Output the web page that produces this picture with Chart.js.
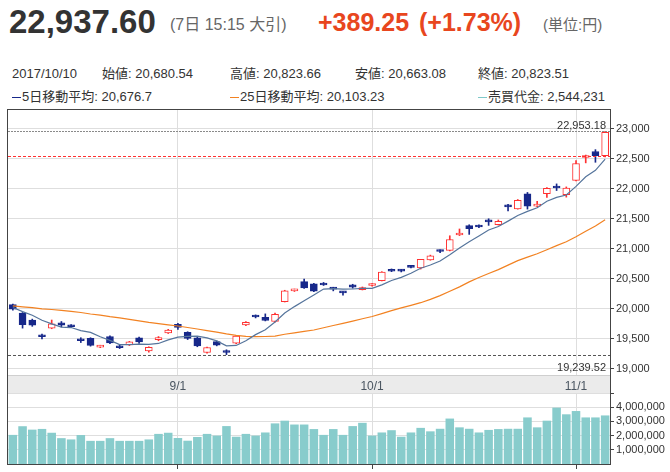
<!DOCTYPE html>
<html>
<head>
<meta charset="utf-8">
<script src="https://cdn.jsdelivr.net/npm/chart.js@4.4.0/dist/chart.umd.min.js"></script>
<style>
  body {
    margin: 0;
    width: 670px;
    height: 472px;
    overflow: hidden;
    position: relative;
    background: #fff;
    font-family: "Liberation Sans", Arial, "Noto Sans CJK JP", sans-serif;
    color: #333;
  }
  .t { position: absolute; white-space: nowrap; line-height: 1; }
  .row { font-size: 13px; color: #333; }
  .dash { display: inline-block; width: 9px; height: 0; border-top: 1px solid; vertical-align: middle; margin-right: 1px; }
  canvas { position: absolute; left: 0; }
</style>
</head>
<body>
<div class="t" style="left:9px;top:5px;font-size:33px;font-weight:bold;color:#333">22,937.60</div>
<div class="t" style="left:170px;top:17px;font-size:16px;color:#666">(7日 15:15 大引)</div>
<div class="t" style="left:318px;top:10px;font-size:25px;font-weight:bold;color:#e8461e">+389.25</div>
<div class="t" style="left:419px;top:10px;font-size:25px;font-weight:bold;color:#e8461e">(+1.73%)</div>
<div class="t" style="left:543px;top:17px;font-size:15px;color:#666">(単位:円)</div>

<div class="t row" id="r-date" style="left:12px;top:67px"></div>
<div class="t row" id="r-open" style="left:102px;top:67px"></div>
<div class="t row" id="r-high" style="left:230px;top:67px"></div>
<div class="t row" id="r-low" style="left:355px;top:67px"></div>
<div class="t row" id="r-close" style="left:478px;top:67px"></div>
<div class="t row" id="r-ma5" style="left:12px;top:90px"></div>
<div class="t row" id="r-ma25" style="left:230px;top:90px"></div>
<div class="t row" id="r-vol" style="left:478px;top:90px"></div>

<canvas id="price" width="670" height="285" style="top:109px"></canvas>
<canvas id="volume" width="670" height="77" style="top:393px"></canvas>

<script>
const year = "2017";
const dates = [
  "8/8", "8/9", "8/10", "8/14", "8/15", "8/16", "8/17", "8/18", "8/21", "8/22",
  "8/23", "8/24", "8/25", "8/28", "8/29", "8/30", "8/31", "9/1", "9/4", "9/5",
  "9/6", "9/7", "9/8", "9/11", "9/12", "9/13", "9/14", "9/15", "9/19", "9/20",
  "9/21", "9/22", "9/25", "9/26", "9/27", "9/28", "9/29", "10/2", "10/3", "10/4",
  "10/5", "10/6", "10/10", "10/11", "10/12", "10/13", "10/16", "10/17", "10/18", "10/19",
  "10/20", "10/23", "10/24", "10/25", "10/26", "10/27", "10/30", "10/31", "11/1", "11/2",
  "11/6", "11/7",
];
const opens = [
  20070, 19930, 19815, 19545, 19680, 19770, 19715, 19480, 19510, 19365,
  19540, 19365, 19400, 19520, 19300, 19490, 19600, 19745, 19610, 19520,
  19275, 19455, 19290, 19430, 19735, 19885, 19860, 19790, 20120, 20300,
  20455, 20417, 20428, 20340, 20280, 20400, 20320, 20390, 20470, 20660,
  20650, 20720, 20680.54, 20815, 20965, 20975, 21230, 21385, 21385, 21460,
  21400, 21710, 21665, 21917, 21710, 21917, 22040, 21900, 22140, 22520,
  22620, 22550,
];
const highs = [
  20080, 19940, 19830, 19580, 19815, 19790, 19740, 19520, 19520, 19395,
  19550, 19410, 19460, 19530, 19370, 19540, 19660, 19760, 19620, 19530,
  19365, 19465, 19320, 19555, 19790, 19900, 19917, 19930, 20310, 20330,
  20495, 20425, 20440, 20360, 20290, 20410, 20365, 20420, 20620, 20665,
  20655, 20725, 20823.66, 20895, 20985, 21217, 21330, 21400, 21400, 21500,
  21480, 21740, 21820, 21938, 21790, 22020, 22080, 22030, 22467, 22560,
  22650, 22953.18,
];
const lows = [
  19980, 19680, 19710, 19500, 19670, 19700, 19690, 19440, 19380, 19355,
  19420, 19340, 19390, 19425, 19280, 19470, 19590, 19660, 19490, 19370,
  19265, 19385, 19239.52, 19420, 19720, 19850, 19800, 19780, 20115, 20290,
  20340, 20285, 20390, 20300, 20230, 20345, 20315, 20380, 20465, 20620,
  20615, 20680, 20663.08, 20810, 20935, 20965, 21220, 21240, 21350, 21390,
  21395, 21630, 21660, 21661, 21700, 21855, 21970, 21860, 22130, 22430,
  22440, 22530,
];
const closes = [
  19996.01, 19738.71, 19729.74, 19537.10, 19753.31, 19729.28, 19702.63, 19470.41, 19393.13, 19383.84,
  19434.64, 19353.77, 19452.61, 19449.90, 19362.55, 19506.54, 19646.24, 19691.47, 19508.25, 19385.81,
  19357.97, 19396.52, 19274.82, 19545.77, 19776.62, 19865.82, 19807.44, 19909.50, 20299.38, 20310.46,
  20347.48, 20296.45, 20397.58, 20330.19, 20267.05, 20363.11, 20356.28, 20400.78, 20614.07, 20626.66,
  20628.56, 20690.71, 20823.51, 20881.27, 20954.72, 21155.18, 21255.56, 21336.12, 21363.05, 21448.52,
  21457.64, 21696.65, 21805.17, 21707.62, 21739.78, 22008.45, 22011.67, 22011.61, 22420.08, 22539.12,
  22548.35, 22937.60,
];
const ma5 = [
  20023, 19954, 19895, 19812, 19751, 19698, 19690, 19638, 19610, 19536,
  19477, 19407, 19404, 19415, 19411, 19425, 19484, 19531, 19543, 19548,
  19518, 19468, 19385, 19392, 19471, 19572, 19654, 19781, 19932, 20038,
  20135, 20232, 20330, 20336, 20328, 20331, 20343, 20343, 20400, 20472,
  20525, 20592, 20676.7, 20730, 20796, 20901, 21014, 21117, 21213, 21312,
  21372, 21461, 21554, 21623, 21682, 21792, 21855, 21896, 22038, 22198,
  22306, 22491,
];
const ma25 = [
  20050, 20035, 20020, 20000, 19990, 19975, 19960, 19940, 19915, 19895,
  19870, 19850, 19825, 19800, 19775, 19755, 19735, 19715, 19690, 19665,
  19640, 19615, 19585, 19560, 19543, 19538, 19541, 19548, 19578, 19601,
  19625, 19649, 19686, 19724, 19759, 19796, 19836, 19874, 19921, 19971,
  20016, 20058, 20103.23, 20158, 20221, 20293, 20367, 20450, 20522, 20589,
  20653, 20728, 20804, 20861, 20918, 20984, 21053, 21117, 21201, 21292,
  21379, 21483,
];
const volumes = [
  2050000, 2660000, 2420000, 2470000, 2200000, 1820000, 1730000, 2040000, 1630000, 1630000,
  1820000, 1630000, 1630000, 1630000, 1730000, 2120000, 2200000, 1830000, 1640000, 1900000,
  2120000, 2000000, 2670000, 1920000, 2120000, 2000000, 2220000, 2860000, 3050000, 2780000,
  2780000, 2460000, 2050000, 2460000, 2050000, 2670000, 2900000, 2000000, 2220000, 2380000,
  1920000, 2220000, 2544231, 2300000, 2480000, 3200000, 2580000, 2480000, 2220000, 2400000,
  2460000, 2480000, 2480000, 3280000, 2580000, 3050000, 3970000, 3500000, 3730000, 3280000,
  3280000, 3420000,
];
const monthIdx = [17, 37, 58];
const monthLabels = ["9/1", "10/1", "11/1"];
const priceTicks = [19000, 19500, 20000, 20500, 21000, 21500, 22000, 22500, 23000];
const volumeTicks = [1000000, 2000000, 3000000, 4000000, 5000000];
const periodHigh = 22953.18;
const periodLow = 19239.52;
const prevClose = 22548.35;
const hoverIdx = 42;

const UP = "#ff3030";
const DOWN = "#17288a";
const MA5_COLOR = "#56759c";
const MA25_COLOR = "#f28222";
const VOL_COLOR = "#88cccc";
const GRID = "#dedede";
const AXIS = "#444";

Chart.defaults.font.family = '"Liberation Sans", Arial, sans-serif';
Chart.defaults.color = "#333";

const fmt = (v) => v.toLocaleString("en-US", { maximumFractionDigits: 2 });

// info rows
const setRow = (id, html) => { document.getElementById(id).innerHTML = html; };
const dash = (c) => `<span class="dash" style="border-color:${c}"></span>`;
setRow("r-date", `${year}/${dates[hoverIdx]}`);
setRow("r-open", `始値: ${fmt(opens[hoverIdx])}`);
setRow("r-high", `高値: ${fmt(highs[hoverIdx])}`);
setRow("r-low", `安値: ${fmt(lows[hoverIdx])}`);
setRow("r-close", `終値: ${fmt(closes[hoverIdx])}`);
setRow("r-ma5", `${dash(DOWN)}5日移動平均: ${fmt(ma5[hoverIdx])}`);
setRow("r-ma25", `${dash(MA25_COLOR)}25日移動平均: ${fmt(ma25[hoverIdx])}`);
setRow("r-vol", `${dash("#7fc9c9")}売買代金: ${fmt(volumes[hoverIdx])}`);

const isUp = dates.map((d, i) => closes[i] >= opens[i]);

const framePlugin = {
  id: "frame",
  beforeDraw(chart, args, opts) {
    const { ctx, chartArea: a } = chart;
    if (opts.band) {
      ctx.save();
      ctx.fillStyle = "#ebebeb";
      ctx.fillRect(a.left, a.bottom, a.right - a.left, chart.height - a.bottom);
      ctx.fillStyle = "#cfcfcf";
      ctx.fillRect(a.left, a.bottom, a.right - a.left, 1);
      ctx.fillRect(a.left, chart.height - 1, a.right - a.left, 1);
      ctx.restore();
    }
  },
  afterDraw(chart, args, opts) {
    const { ctx, chartArea: a } = chart;
    ctx.save();
    ctx.fillStyle = AXIS;
    const top = opts.top ? a.top - 1 : 0;
    const bottom = opts.bottomLine ? a.bottom + 1 : chart.height;
    ctx.fillRect(a.left - 1, top, 1, bottom - top);
    ctx.fillRect(a.right, top, 1, bottom - top);
    if (opts.top) ctx.fillRect(a.left - 1, a.top - 1, a.right - a.left + 2, 1);
    if (opts.bottomLine) ctx.fillRect(a.left - 1, a.bottom, a.right - a.left + 2, 1);
    ctx.restore();
  },
};

const refLinesPlugin = {
  id: "refLines",
  afterDatasetsDraw(chart) {
    const { ctx, chartArea: a, scales } = chart;
    const line = (v, color, dashArr) => {
      const y = Math.round(scales.y.getPixelForValue(v)) + 0.5;
      ctx.save();
      ctx.strokeStyle = color;
      ctx.lineWidth = 1;
      ctx.setLineDash(dashArr);
      ctx.beginPath();
      ctx.moveTo(a.left, y);
      ctx.lineTo(a.right, y);
      ctx.stroke();
      ctx.restore();
      return y;
    };
    ctx.save();
    ctx.font = '11px "Liberation Sans", Arial, sans-serif';
    ctx.fillStyle = "#333";
    ctx.textAlign = "right";
    const yh = line(periodHigh, "#8a8a8a", [2, 1]);
    ctx.textBaseline = "alphabetic";
    ctx.fillText(fmt(periodHigh), a.right - 4, yh - 3);
    line(prevClose, "#ff3030", [3, 2]);
    const yl = line(periodLow, "#555", [3, 2]);
    ctx.fillText(fmt(periodLow), a.right - 4, yl + 15);
    ctx.restore();
  },
};

const noPad = (w) => (scale) => {
  if (w !== undefined) scale.width = w;
  scale.paddingTop = 0;
  scale.paddingBottom = 0;
};

new Chart(document.getElementById("price"), {
  type: "bar",
  data: {
    labels: dates,
    datasets: [
      {
        type: "line",
        data: ma5,
        borderColor: MA5_COLOR,
        borderWidth: 1.2,
        pointRadius: 0,
        order: 0,
      },
      {
        type: "line",
        data: ma25,
        borderColor: MA25_COLOR,
        borderWidth: 1.2,
        pointRadius: 0,
        order: 0,
      },
      {
        data: dates.map((d, i) => [opens[i], closes[i]]),
        backgroundColor: isUp.map((u) => (u ? "#ffffff" : DOWN)),
        borderColor: isUp.map((u) => (u ? UP : DOWN)),
        borderWidth: 1,
        borderSkipped: false,
        barThickness: 7,
        minBarLength: 2,
        grouped: false,
        order: 1,
      },
      {
        data: dates.map((d, i) => [lows[i], highs[i]]),
        backgroundColor: isUp.map((u) => (u ? UP : DOWN)),
        borderWidth: 0,
        barThickness: 1,
        grouped: false,
        order: 2,
      },
    ],
  },
  options: {
    responsive: false,
    animation: false,
    events: [],
    layout: { padding: { left: 8, top: 1, right: 0, bottom: 0 } },
    plugins: {
      legend: { display: false },
      tooltip: { enabled: false },
      frame: { band: true, top: true },
    },
    scales: {
      x: {
        offset: true,
        grid: { offset: false, color: GRID, drawTicks: false },
        border: { display: false },
        ticks: {
          autoSkip: false,
          maxRotation: 0,
          padding: 4,
          color: "#4a5560",
          font: { size: 12 },
          callback: (v, i) => monthLabels[i],
        },
        afterBuildTicks: (axis) => {
          axis.ticks = monthIdx.map((v) => ({ value: v }));
        },
        afterFit: (scale) => {
          scale.height = 19;
          scale.paddingLeft = 0;
          scale.paddingRight = 0;
        },
      },
      y: {
        position: "right",
        min: 18900,
        max: 23310,
        grid: { color: GRID, tickColor: AXIS, tickLength: 4 },
        border: { display: false },
        ticks: {
          autoSkip: false,
          padding: 2,
          color: "#333",
          font: { size: 11 },
          callback: (v) => v.toLocaleString("en-US"),
        },
        afterBuildTicks: (axis) => {
          axis.ticks = priceTicks.map((v) => ({ value: v }));
        },
        afterFit: noPad(60),
      },
    },
  },
  plugins: [framePlugin, refLinesPlugin],
});

new Chart(document.getElementById("volume"), {
  type: "bar",
  data: {
    labels: dates,
    datasets: [
      {
        data: volumes,
        backgroundColor: VOL_COLOR,
        barPercentage: 1,
        categoryPercentage: 0.88,
      },
    ],
  },
  options: {
    responsive: false,
    animation: false,
    events: [],
    layout: { padding: { left: 8, top: 0, right: 0, bottom: 0 } },
    plugins: {
      legend: { display: false },
      tooltip: { enabled: false },
      frame: { bottomLine: true },
    },
    scales: {
      x: {
        offset: true,
        grid: { offset: false, color: GRID, tickColor: AXIS, tickLength: 5 },
        border: { display: false },
        ticks: { display: false },
        afterBuildTicks: (axis) => {
          axis.ticks = monthIdx.map((v) => ({ value: v }));
        },
        afterFit: (scale) => {
          scale.height = 6;
          scale.paddingLeft = 0;
          scale.paddingRight = 0;
        },
      },
      y: {
        position: "right",
        min: 0,
        max: 5000000,
        grid: { color: GRID, tickColor: AXIS, tickLength: 4 },
        border: { display: false },
        ticks: {
          autoSkip: false,
          padding: 2,
          color: "#333",
          font: { size: 11 },
          callback: (v) => (v >= 5000000 ? "" : v.toLocaleString("en-US")),
        },
        afterBuildTicks: (axis) => {
          axis.ticks = volumeTicks.map((v) => ({ value: v }));
        },
        afterFit: noPad(60),
      },
    },
  },
  plugins: [framePlugin],
});
</script>
</body>
</html>
